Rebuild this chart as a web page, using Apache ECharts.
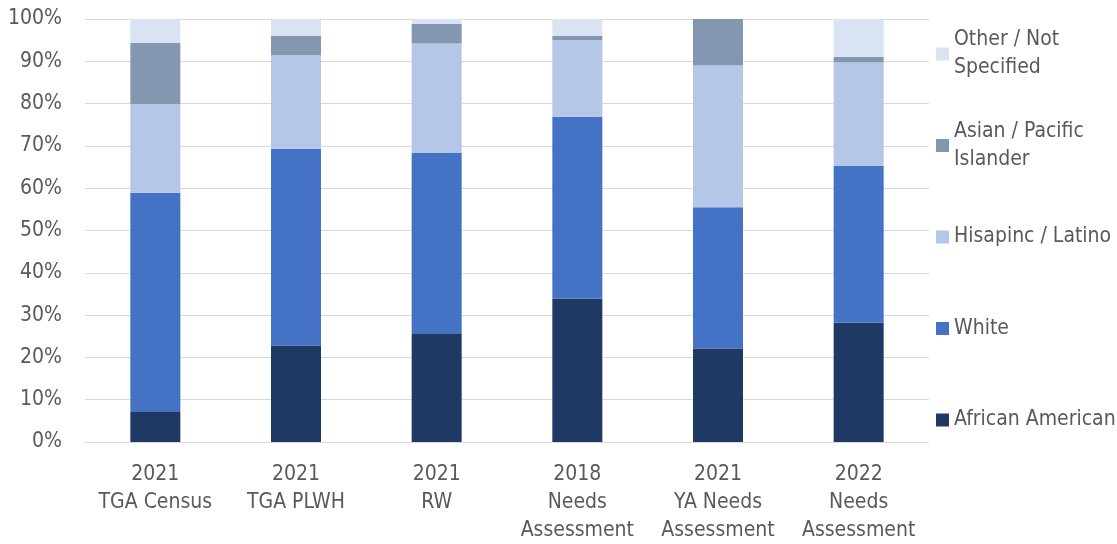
<!DOCTYPE html>
<html>
<head>
<meta charset="utf-8">
<script src="https://cdn.jsdelivr.net/npm/echarts@6/dist/echarts.min.js"></script>
<style>
  html, body { margin: 0; padding: 0; background: #fff; }
  #chart { width: 1117px; height: 544px; }
</style>
</head>
<body>
<div id="chart"></div>
<script>
const categories = [
  "2021\nTGA Census",
  "2021\nTGA PLWH",
  "2021\nRW",
  "2018\nNeeds\nAssessment",
  "2021\nYA Needs\nAssessment",
  "2022\nNeeds\nAssessment",
];
const africanAmerican = [7.1, 22.8, 25.7, 33.9, 22.1, 28.2];
const white = [51.8, 46.5, 42.6, 43.0, 33.4, 37.1];
const hispanic = [21.0, 22.2, 25.9, 18.1, 33.5, 24.4];
const asian = [14.4, 4.5, 4.6, 1.0, 11.0, 1.3];
const other = [5.7, 4.0, 1.2, 4.0, 0, 9.0];
const yTicks = [0, 100, 10];

const font = "'DejaVu Sans Condensed', 'Liberation Sans', sans-serif";
const textColor = "#595959";

const chart = echarts.init(document.getElementById("chart"));

// two-line legend names keep the icon on the first line
const twoLine = { padding: [28, 0, 0, 0] };
const oneLine = { padding: [28, 0, 28, 0] };

const option = {
  animation: false,
  grid: { left: 85, right: 188, top: 19, bottom: 102, outerBoundsMode: "none" },
  legend: {
    orient: "vertical",
    left: 931,
    top: 7,
    itemWidth: 13,
    itemHeight: 13,
    itemGap: 7.5,
    icon: "rect",
    textStyle: {
      fontFamily: font,
      fontSize: 21,
      lineHeight: 28,
      color: textColor,
      padding: [28, 0, 28, 0],
    },
    formatter: (name) => name.replace(" Not ", " Not\n").replace("Pacific ", "Pacific\n"),
    data: [
      { name: "Other / Not Specified", textStyle: twoLine },
      { name: "Asian / Pacific Islander", textStyle: twoLine },
      { name: "Hisapinc / Latino", textStyle: oneLine },
      { name: "White", textStyle: oneLine },
      { name: "African American", textStyle: oneLine },
    ],
  },
  xAxis: {
    type: "category",
    data: categories,
    axisLine: { lineStyle: { color: "#d9d9d9", width: 1 } },
    axisTick: { show: false },
    axisLabel: {
      fontFamily: font,
      fontSize: 21,
      lineHeight: 28,
      color: textColor,
      margin: 19,
      interval: 0,
    },
  },
  yAxis: {
    type: "value",
    min: yTicks[0],
    max: yTicks[1],
    interval: yTicks[2],
    axisLine: { show: false },
    axisTick: { show: false },
    splitLine: { lineStyle: { color: "#d9d9d9", width: 1 } },
    axisLabel: {
      formatter: "{value}%",
      fontFamily: font,
      fontSize: 21,
      color: textColor,
      margin: 23,
    },
  },
  series: [
    { name: "African American", data: africanAmerican, color: "#203864" },
    { name: "White", data: white, color: "#4472C4" },
    { name: "Hisapinc / Latino", data: hispanic, color: "#B4C7E7" },
    { name: "Asian / Pacific Islander", data: asian, color: "#8497B0" },
    { name: "Other / Not Specified", data: other, color: "#DAE3F3" },
  ].map((s) => ({
    ...s,
    type: "bar",
    stack: "total",
    barWidth: 50,
  })),
};

chart.setOption(option);
</script>
</body>
</html>
